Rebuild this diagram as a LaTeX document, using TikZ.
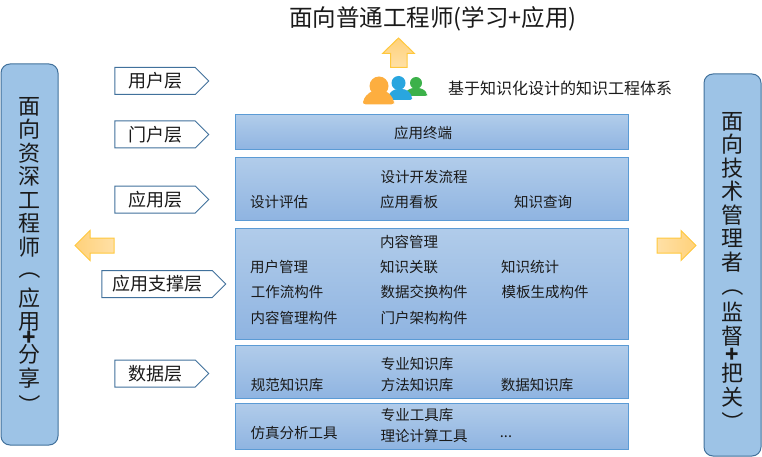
\documentclass[tikz,border=0pt]{standalone}
\usepackage{fontspec}
\setmainfont{Noto Sans CJK SC}
\usepackage{graphicx}
\usetikzlibrary{shapes.symbols}

\definecolor{barline}{HTML}{5B9BD5}
\definecolor{bartop}{HTML}{B1CCEA}
\definecolor{barbottom}{HTML}{8FB4E1}
\definecolor{sideline}{HTML}{41719C}
\definecolor{sidefill}{HTML}{9DC3E6}
\definecolor{arrowline}{HTML}{FFC83D}
\definecolor{arrowlight}{HTML}{FFE0A6}
\definecolor{arrowdark}{HTML}{FFD17A}
\definecolor{textcolor}{HTML}{1A1A1A}
\definecolor{peopleorange}{HTML}{FDAE3F}
\definecolor{peopleblue}{HTML}{29A6DF}
\definecolor{peoplegreen}{HTML}{3CB14A}

\tikzset{
    layerbar/.style={rectangle, draw=barline, line width=1pt, top color=bartop, bottom color=barbottom, inner sep=0pt},
    bartext/.style={font=\fontsize{14.5}{16}\selectfont, text=textcolor, inner sep=0pt},
    layertag/.style={signal, signal to=east, signal pointer angle=90, draw=sideline, line width=1pt, fill=white, inner sep=0pt, font=\fontsize{18}{20}\selectfont, text=textcolor, minimum height=27pt},
    sidebox/.style={rectangle, rounded corners=9pt, draw=sideline, line width=1pt, fill=sidefill, minimum width=57pt, inner sep=0pt},
    sidetext/.style={font=\fontsize{22}{23.5}\selectfont, text=textcolor, align=center, inner sep=0pt},
    bigarrow/.style={draw=arrowline, line width=1pt, line join=miter}
}

\newcommand{\vopen}{\smash{\rotatebox[origin=c]{-90}{（}}}
\newcommand{\vclose}{\smash{\rotatebox[origin=c]{-90}{）}}}
\newcommand{\vplus}{\textbf{+}}

\begin{document}
\begin{tikzpicture}[x=1pt, y=-1pt]
    \useasboundingbox (0, 0) rectangle (762, 457);

    % title and people
    \node[font=\fontsize{23.5}{25}\selectfont, text=textcolor, inner sep=0pt] (title) at (433, 19) {面向普通工程师(学习+应用)};
    \node[font=\fontsize{16}{18}\selectfont, text=textcolor, inner sep=0pt] (system) at (560, 88) {基于知识化设计的知识工程体系};

    \fill[peoplegreen, rounded corners=2pt] (405, 96) -- (405, 94) .. controls (407, 90) and (411, 88) .. (416, 88) .. controls (421, 88) and (425, 90) .. (427, 94) -- (427, 96) -- cycle;
    \fill[peoplegreen] (416, 83) circle (6);
    \fill[peopleblue, rounded corners=2pt] (388, 100) -- (388, 97) .. controls (390, 92) and (394, 89) .. (400, 89) .. controls (406, 89) and (410, 92) .. (412, 97) -- (412, 100) -- cycle;
    \fill[peopleblue] (398.5, 83) circle (7);
    \fill[peopleorange, rounded corners=3pt] (363, 104.5) -- (363, 101) .. controls (366, 95) and (372, 90) .. (379, 90) .. controls (386, 90) and (391, 95) .. (394, 101) -- (394, 104.5) -- cycle;
    \fill[peopleorange] (379, 86) circle (9.5);

    % arrows
    \draw[bigarrow, top color=arrowdark, bottom color=arrowlight] (398.5, 38) -- (414.5, 53.5) -- (407, 53.5) -- (407, 67.5) -- (390.5, 67.5) -- (390.5, 53.5) -- (382.5, 53.5) -- cycle;
    \draw[bigarrow, left color=arrowdark, right color=arrowlight] (75, 245.5) -- (90, 230.5) -- (90, 238) -- (114, 238) -- (114, 253) -- (90, 253) -- (90, 260.5) -- cycle;
    \draw[bigarrow, left color=arrowlight, right color=arrowdark] (696, 245.5) -- (681, 230.5) -- (681, 238) -- (657, 238) -- (657, 253) -- (681, 253) -- (681, 260.5) -- cycle;

    % side boxes
    \node[sidebox, minimum height=381pt] (leftbox) at (29.5, 254.5) {};
    \node[sidebox, minimum height=382pt] (rightbox) at (732.5, 265) {};
    \node[sidetext, anchor=north] (lefttext) at (29.5, 97) {面\\向\\资\\深\\工\\程\\师\\[-1.5pt]\vopen\\[5.5pt]应\\用\\[-7.5pt]\vplus\\[-6.5pt]分\\享\\[4.5pt]\vclose};
    \node[sidetext, anchor=north] (righttext) at (732.5, 112) {面\\向\\技\\术\\管\\理\\者\\\vopen\\[3.5pt]监\\督\\[-5pt]\vplus\\[-4.5pt]把\\关\\[2.5pt]\vclose};

    % layer tags
    \node[layertag, minimum width=94pt] (usertag) at (155, 81) {用户层\hspace{14pt}};
    \node[layertag, minimum width=94pt] (portaltag) at (155, 134.5) {门户层\hspace{14pt}};
    \node[layertag, minimum width=94pt] (apptag) at (155, 199.5) {应用层\hspace{14pt}};
    \node[layertag, minimum width=124pt] (supporttag) at (157, 284) {应用支撑层\hspace{14pt}};
    \node[layertag, minimum width=94pt] (datatag) at (155, 373.5) {数据层\hspace{14pt}};

    % layer bars
    \node[layerbar, minimum width=393pt, minimum height=35pt] (terminalbar) at (432, 132.5) {};
    \node[layerbar, minimum width=393pt, minimum height=62pt] (appbar) at (432, 189) {};
    \node[layerbar, minimum width=393pt, minimum height=111pt] (supportbar) at (432, 283.5) {};
    \node[layerbar, minimum width=393pt, minimum height=53pt] (databar) at (432, 371.5) {};
    \node[layerbar, minimum width=393pt, minimum height=46pt] (toolbar) at (432, 426) {};

    \node[bartext] (terminal) at (423, 133) {应用终端};

    \node[bartext] (flow) at (424, 177) {设计开发流程};
    \node[bartext] (review) at (279, 202) {设计评估};
    \node[bartext] (board) at (409, 202) {应用看板};
    \node[bartext] (query) at (543, 202) {知识查询};

    \node[bartext] (content) at (409, 242) {内容管理};
    \node[bartext] (usermgr) at (279, 267) {用户管理};
    \node[bartext] (relate) at (409, 267) {知识关联};
    \node[bartext] (stats) at (530, 267) {知识统计};
    \node[bartext] (workflow) at (287, 292) {工作流构件};
    \node[bartext] (exchange) at (424, 292) {数据交换构件};
    \node[bartext] (template) at (545, 292) {模板生成构件};
    \node[bartext] (contentpart) at (294, 318) {内容管理构件};
    \node[bartext] (portalpart) at (424, 318) {门户架构构件};

    \node[bartext] (major) at (417, 364) {专业知识库};
    \node[bartext] (norm) at (287, 385) {规范知识库};
    \node[bartext] (method) at (417, 385) {方法知识库};
    \node[bartext] (datalib) at (537, 385) {数据知识库};

    \node[bartext] (majortool) at (417, 415) {专业工具库};
    \node[bartext] (simtool) at (294, 433) {仿真分析工具};
    \node[bartext] (theorytool) at (424, 436) {理论计算工具};
    \node[bartext] (more) at (506, 437) {...};
\end{tikzpicture}
\end{document}
